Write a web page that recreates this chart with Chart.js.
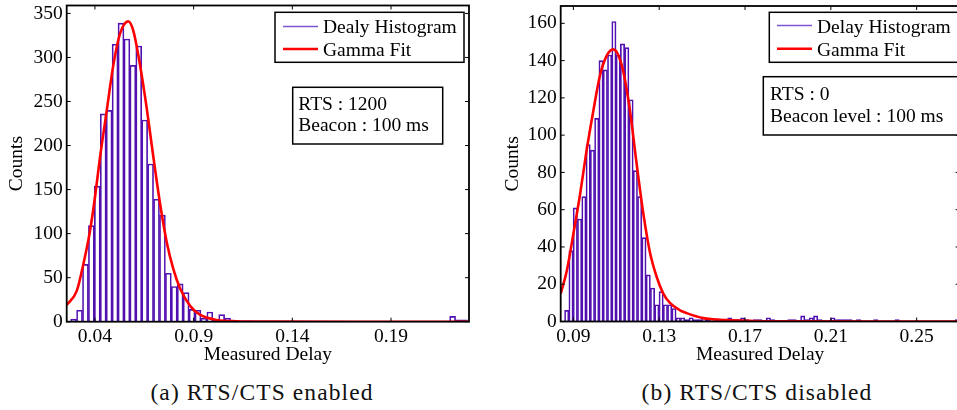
<!DOCTYPE html>
<html><head><meta charset="utf-8">
<script src="https://cdn.jsdelivr.net/npm/chart.js@4.4.1/dist/chart.umd.min.js"></script>
<style>
html,body{margin:0;padding:0;background:#fff;overflow:hidden;width:957px;height:410px;}
#wrap{position:relative;width:957px;height:410px;overflow:hidden;background:#fff;}
canvas{position:absolute;top:0;}
#c1{left:0}
#c2{left:495px}
.cap{position:absolute;font-family:"Liberation Serif","Times New Roman",serif;font-size:23.5px;line-height:26px;letter-spacing:1.1px;white-space:nowrap;transform:translateX(-50%);top:379px;color:#111;}
</style></head><body>
<div id="wrap">
<canvas id="c1" width="480" height="372"></canvas>
<canvas id="c2" width="480" height="372"></canvas>
<div class="cap" style="left:262px">(a) RTS/CTS enabled</div>
<div class="cap" style="left:757px">(b) RTS/CTS disabled</div>
</div>
<script>
// ---------- Panel (a): RTS/CTS enabled ----------
const leftBinStart = 0.0277;
const leftBinWidth = 0.003;
const leftCounts = [3,13,65,109,154,236,240,315,339,321,291,313,229,179,139,121,55,40,43,33,14,13,4,11,2,8,4,0,0,1,1,
  0,0,0,0,0,0,0,0,0,0, 0,0,0,0,0,0,0,0,0,0, 0,0,0,0,0,0,0,0,0,0, 0,0,0,
  6,2,2];
const leftFitX = [0.0257,0.0308,0.0341,0.0375,0.0400,0.0426,0.0460,0.0493,0.0527,0.0569,0.0595,0.0628,0.0662,0.0696,0.0730,0.0764,0.0797,0.0831,0.0882,0.0932,0.1017,0.1118,0.1300,0.2295];
const leftFitY = [19,35,65,103,141,187,240,291,327,341,330,292,243,187,134,90,60,38,18,8,2,0.5,0.05,0];
const leftXTicks = [0.04,0.09,0.14,0.19];
const leftXTickLabels = ['0.04','0.0.9','0.14','0.19'];
const leftYTicks = [0,50,100,150,200,250,300,350];
const leftHistLabel = 'Dealy Histogram';
const leftNote = ['RTS : 1200','Beacon : 100 ms'];

// ---------- Panel (b): RTS/CTS disabled ----------
const rightBinStart = 0.0859;
const rightBinWidth = 0.002;
const rightCounts = [6,38,61,55,67,95,92,109,140,135,
  143,161,143,149,147,119,81,67,45,25,
  18,9,16,9,9,7,2,2,1,2,
  1,1,2,1,0,1,1,0,2,1,
  1,2,1,0,1,1,0,2,1,0,
  0,0,1,1,0,3,1,2,3,1,
  0,0,2,1,1,1,1,0,1,0,
  0,0,1,0,0,0,0,1,0,0,
  0,0,0,0,0,0,0,0,0,0,
  0,1];
const rightFitX = [0.0841,0.0869,0.0900,0.0931,0.0962,0.0993,0.1024,0.1055,0.1086,0.1109,0.1133,0.1164,0.1195,0.1226,0.1257,0.1288,0.1319,0.1350,0.1397,0.1428,0.1506,0.1583,0.1740,0.2000,0.2700];
const rightFitY = [15,27,47,68,92,113,132,142.5,146,143,134,113,84.5,58,37,24,15,10,6,4.5,1.8,0.9,0.3,0.05,0];
const rightXTicks = [0.09,0.13,0.17,0.21,0.25];
const rightXTickLabels = ['0.09','0.13','0.17','0.21','0.25'];
const rightYTicks = [0,20,40,60,80,100,120,140,160];
const rightHistLabel = 'Delay Histogram';
const rightNote = ['RTS : 0','Beacon level : 100 ms'];

const fitLabel = 'Gamma Fit';

// ---------- styling ----------
const FONT = '"Liberation Serif","Times New Roman",serif';
const FS = 19.5;
const BAR_COLOR = '#5210b0';
const BAR_LEGEND_COLOR = '#7d55d0';
const FIT_COLOR = '#ff0000';

const framePlugin = {
  id: 'frame',
  afterDatasetsDraw(chart) {
    const {ctx, chartArea: a, scales: {x, y}} = chart;
    ctx.save();
    ctx.strokeStyle = '#000';
    ctx.lineWidth = 1;
    const L = 4;
    ctx.beginPath();
    x.ticks.forEach(t => {
      const p = x.getPixelForValue(t.value);
      ctx.moveTo(p, a.bottom); ctx.lineTo(p, a.bottom - L);
      ctx.moveTo(p, a.top); ctx.lineTo(p, a.top + L);
    });
    y.ticks.forEach(t => {
      const p = y.getPixelForValue(t.value);
      ctx.moveTo(a.left, p); ctx.lineTo(a.left + L, p);
      ctx.moveTo(a.right, p); ctx.lineTo(a.right - L, p);
    });
    ctx.stroke();
    ctx.lineWidth = 1.8;
    ctx.strokeRect(a.left, a.top, a.right - a.left, a.bottom - a.top);
    ctx.restore();
  }
};

const boxPlugin = {
  id: 'boxes',
  afterDraw(chart, args, o) {
    const ctx = chart.ctx;
    ctx.save();
    ctx.font = FS + 'px ' + FONT;
    ctx.textBaseline = 'alphabetic';
    ctx.textAlign = 'left';
    const lg = o.legend;
    ctx.fillStyle = '#fff';
    ctx.fillRect(lg.x, lg.y, lg.w, lg.h);
    ctx.strokeStyle = '#000';
    ctx.lineWidth = 1.5;
    ctx.strokeRect(lg.x, lg.y, lg.w, lg.h);
    chart.data.datasets.forEach((ds, i) => {
      ctx.strokeStyle = ds.legendColor || ds.borderColor;
      ctx.lineWidth = i === 0 ? 1.5 : 2.5;
      ctx.beginPath();
      ctx.moveTo(lg.lx0, lg.lineY[i]);
      ctx.lineTo(lg.lx1, lg.lineY[i]);
      ctx.stroke();
      ctx.fillStyle = '#000';
      ctx.fillText(ds.label, lg.tx, lg.base[i]);
    });
    const n = o.note;
    ctx.fillStyle = '#fff';
    ctx.fillRect(n.x, n.y, n.w, n.h);
    ctx.strokeStyle = '#000';
    ctx.lineWidth = 1.5;
    ctx.strokeRect(n.x, n.y, n.w, n.h);
    ctx.fillStyle = '#000';
    n.lines.forEach((t, i) => ctx.fillText(t, n.tx, n.base[i]));
    ctx.restore();
  }
};

function makeChart(id, cfg) {
  const bars = cfg.counts.map((c, k) => ({x: cfg.binStart + (k + 0.5) * cfg.binWidth, y: c}));
  const fit = cfg.fitX.map((xv, i) => ({x: xv, y: cfg.fitY[i]}));
  return new Chart(document.getElementById(id), {
    type: 'bar',
    data: {datasets: [
      {type: 'bar', label: cfg.histLabel, data: bars, backgroundColor: 'rgba(255,255,255,0)',
       borderColor: BAR_COLOR, legendColor: BAR_LEGEND_COLOR, borderWidth: 1,
       barPercentage: 1, categoryPercentage: 1, order: 2},
      {type: 'line', label: fitLabel, data: fit, borderColor: FIT_COLOR, borderWidth: 2.6,
       pointRadius: 0, cubicInterpolationMode: 'monotone', fill: false, order: 1}
    ]},
    plugins: [framePlugin, boxPlugin],
    options: {
      responsive: false, animation: false, devicePixelRatio: 1,
      layout: {padding: {left: 0, top: cfg.top, right: cfg.padRight, bottom: 0}},
      plugins: {legend: {display: false}, tooltip: {enabled: false}, boxes: cfg.boxes},
      scales: {
        x: {type: 'linear', min: cfg.xMin, max: cfg.xMax, offset: false,
            grid: {display: false, drawTicks: false, offset: false}, border: {display: false},
            afterBuildTicks: s => { s.ticks = cfg.xTicks.map(v => ({value: v})); },
            afterFit: s => { s.height = 372 - cfg.bottom; s.paddingLeft = 0; s.paddingRight = 0; },
            ticks: {autoSkip: false, maxRotation: 0, minRotation: 0, padding: 3.5,
                    font: {family: FONT, size: FS}, color: '#000',
                    callback: (v, i) => cfg.xTickLabels[i]},
            title: {display: true, text: 'Measured Delay', font: {family: FONT, size: FS}, color: '#000',
                    padding: {top: 0, bottom: 5.8}}},
        y: {type: 'linear', min: 0, max: cfg.yMax,
            grid: {display: false, drawTicks: false}, border: {display: false},
            afterBuildTicks: s => { s.ticks = cfg.yTicks.map(v => ({value: v})); },
            afterFit: s => { s.width = cfg.yAxisW; s.paddingTop = 0; s.paddingBottom = 0; },
            ticks: {padding: 4, font: {family: FONT, size: FS}, color: '#000'},
            title: {display: true, text: 'Counts', font: {family: FONT, size: FS}, color: '#000',
                    padding: {top: cfg.yTitlePad, bottom: 0}}}
      }
    }
  });
}

makeChart('c1', {
  counts: leftCounts, binStart: leftBinStart, binWidth: leftBinWidth,
  fitX: leftFitX, fitY: leftFitY, histLabel: leftHistLabel,
  xTicks: leftXTicks, xTickLabels: leftXTickLabels, yTicks: leftYTicks,
  xMin: 0.0257, xMax: 0.2295, yMax: 359,
  top: 5.5, bottom: 321.7, padRight: 11, yAxisW: 66.7, yTitlePad: 5.3,
  boxes: {
    legend: {x: 275, y: 12.3, w: 189, h: 50, lx0: 283, lx1: 318, lineY: [26.5, 49], tx: 323, base: [33.3, 56]},
    note: {x: 292.7, y: 87.3, w: 150, h: 56.7, tx: 298.3, base: [110, 131], lines: leftNote}
  }
});

makeChart('c2', {
  counts: rightCounts, binStart: rightBinStart, binWidth: rightBinWidth,
  fitX: rightFitX, fitY: rightFitY, histLabel: rightHistLabel,
  xTicks: rightXTicks, xTickLabels: rightXTickLabels, yTicks: rightYTicks,
  xMin: 0.0841, xMax: 0.27, yMax: 169.3,
  top: 6, bottom: 321.5, padRight: 15.4, yAxisW: 65.7, yTitlePad: 6.3,
  boxes: {
    legend: {x: 274.3, y: 12.3, w: 190, h: 50, lx0: 282, lx1: 317, lineY: [25.5, 48.7], tx: 322, base: [33.3, 56]},
    note: {x: 268.3, y: 76.7, w: 194.7, h: 58.3, tx: 275, base: [100, 121.7], lines: rightNote}
  }
});
</script>
</body></html>
